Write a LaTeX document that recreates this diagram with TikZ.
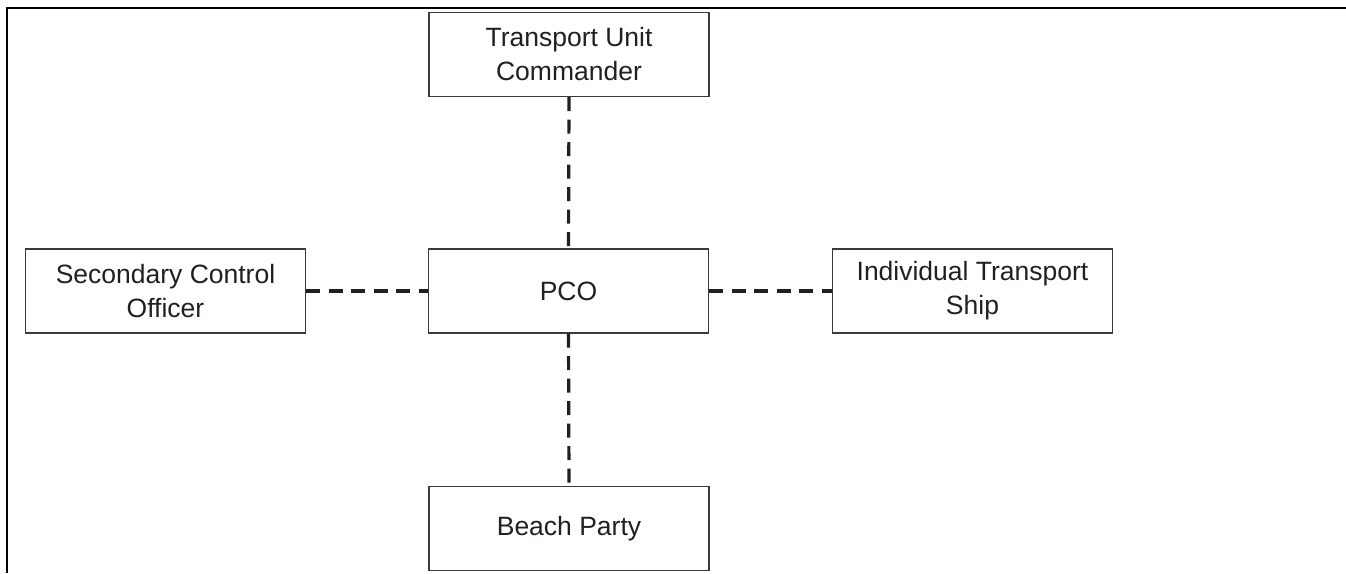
\documentclass[tikz,border=0pt]{standalone}
\usepackage{fontspec}
\setmainfont{Liberation Sans}
\definecolor{boxline}{HTML}{3A3A3A}
\definecolor{txt}{HTML}{231F20}
\begin{document}
\begin{tikzpicture}[x=1pt,y=-1pt,
  orgbox/.style={draw=boxline,line width=1.3pt,rectangle,inner sep=0pt,
    minimum width=280pt,minimum height=84pt,align=center,text=txt,
    font=\fontsize{26.5pt}{34pt}\selectfont},
  link/.style={draw=txt,line width=3.2pt,dash pattern=on 14pt off 8.5pt}]
\useasboundingbox (0,0) rectangle (1346,573);
\draw[line width=2.6pt] (7,573) -- (7,8) -- (1346,8);
\node[orgbox] (tuc) at (569,54.5) {Transport Unit\\Commander};
\node[orgbox] (pco) at (568.5,291) {PCO};
\node[orgbox] (bp) at (569,528.5) {Beach Party};
\node[orgbox] (sco) at (165.5,291) {Secondary Control\\Officer};
\node[orgbox] (its) at (972.5,291) {Individual Transport\\Ship};
\draw[link] (tuc.south) -- (pco.north);
\draw[link] (pco.south) -- (bp.north);
\draw[link] (sco.east) -- (pco.west);
\draw[link] (pco.east) -- (its.west);
\end{tikzpicture}
\end{document}
